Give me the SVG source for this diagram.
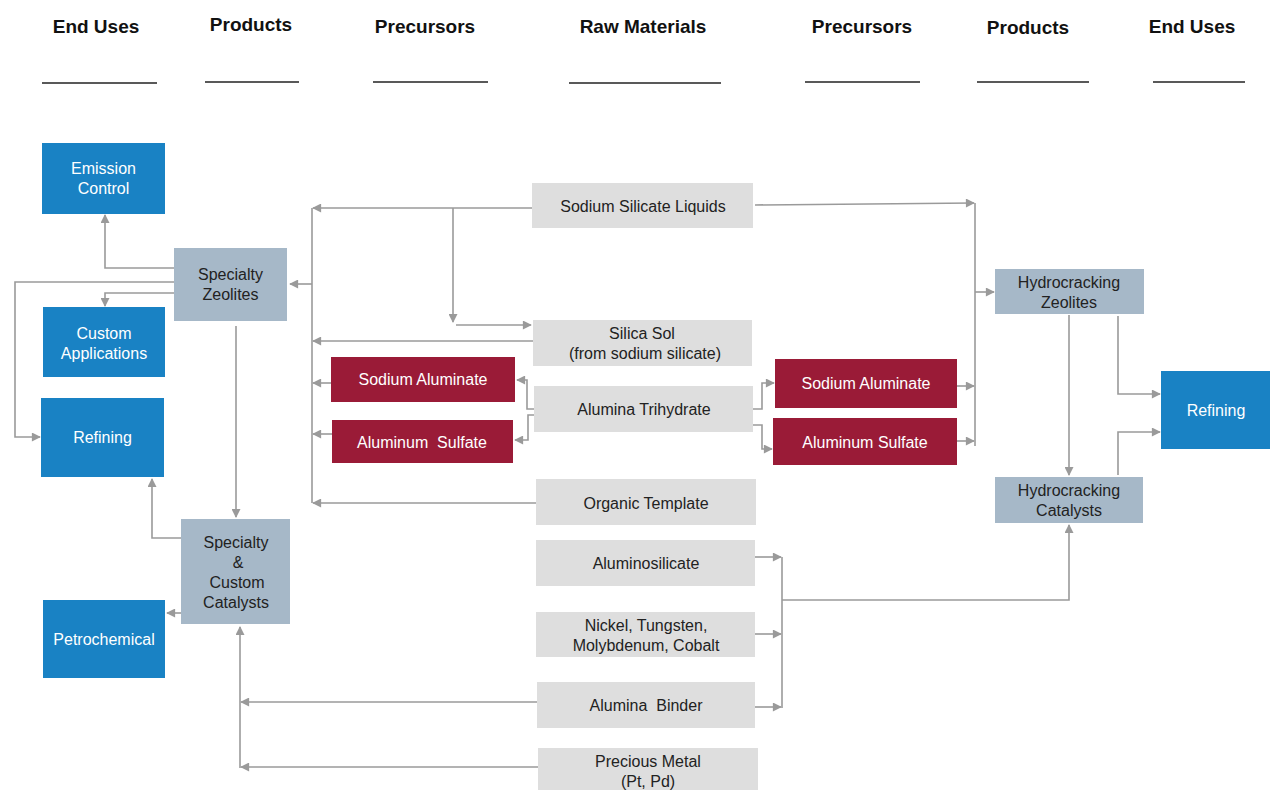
<svg xmlns="http://www.w3.org/2000/svg" width="1270" height="790" viewBox="0 0 1270 790">
<defs>
<marker id="ah" viewBox="0 0 10 10" refX="9" refY="5" markerWidth="10" markerHeight="9" markerUnits="userSpaceOnUse" orient="auto">
<path d="M0,0 L10,5 L0,10 Z" fill="#9a9a9a"/>
</marker>
<style>
.hdr{font-family:"Liberation Sans",Arial,sans-serif;font-size:19px;font-weight:bold;fill:#111;text-anchor:middle}
.ul{stroke:#222;stroke-width:1.5}
.blue{fill:#1982c4}
.slate{fill:#a6b8c8}
.lite{fill:#dedede}
.red{fill:#9a1b37}
.tw{font-family:"Liberation Sans",Arial,sans-serif;font-size:16px;fill:#fff;text-anchor:middle}
.td{font-family:"Liberation Sans",Arial,sans-serif;font-size:16px;fill:#222;text-anchor:middle}
.c{fill:none;stroke:#9a9a9a;stroke-width:1.6}
.a{marker-end:url(#ah)}
</style>
</defs>
<rect width="1270" height="790" fill="#fff"/>
<g id="headers">
<text class="hdr" x="96" y="33">End Uses</text>
<text class="hdr" x="251" y="31">Products</text>
<text class="hdr" x="425" y="33">Precursors</text>
<text class="hdr" x="643" y="33">Raw Materials</text>
<text class="hdr" x="862" y="33">Precursors</text>
<text class="hdr" x="1028" y="34">Products</text>
<text class="hdr" x="1192" y="33">End Uses</text>
<line class="ul" x1="42" y1="83" x2="157" y2="83"/>
<line class="ul" x1="205" y1="82" x2="299" y2="82"/>
<line class="ul" x1="373" y1="82" x2="488" y2="82"/>
<line class="ul" x1="569" y1="83" x2="721" y2="83"/>
<line class="ul" x1="805" y1="82" x2="920" y2="82"/>
<line class="ul" x1="977" y1="82" x2="1089" y2="82"/>
<line class="ul" x1="1153" y1="82" x2="1245" y2="82"/>
</g>
<g id="connectors">
<path class="c a" d="M174 268 H105 V215"/>
<path class="c a" d="M174 282 H15 V437 H40"/>
<path class="c a" d="M174 293 H105 V306"/>
<path class="c a" d="M236 326 V517"/>
<path class="c a" d="M181 538 H152 V479"/>
<path class="c a" d="M181 613 H167"/>
<path class="c" d="M312 208 V503"/>
<path class="c a" d="M312 284 H290"/>
<path class="c a" d="M532 208 H313"/>
<path class="c a" d="M453 208 V322"/>
<path class="c a" d="M456 325 H531"/>
<path class="c a" d="M533 341 H313"/>
<path class="c a" d="M331 383 H313"/>
<path class="c a" d="M332 434 H313"/>
<path class="c a" d="M536 503 H313"/>
<path class="c a" d="M540 409 H527 V380 H517"/>
<path class="c a" d="M540 415 H528 V440 H515"/>
<path class="c a" d="M753 409 H762 V383 H774"/>
<path class="c a" d="M753 425 H762 V449 H772"/>
<path class="c a" d="M755 205 L974 203"/>
<path class="c" d="M975 203 V446"/>
<path class="c a" d="M957 386 H974"/>
<path class="c a" d="M957 441 H974"/>
<path class="c a" d="M975 292 H994"/>
<path class="c a" d="M1069 315 V475"/>
<path class="c a" d="M1118 316 V394 H1160"/>
<path class="c a" d="M1118 475 V432 H1160"/>
<path class="c a" d="M755 557 H781"/>
<path class="c a" d="M755 634 H781"/>
<path class="c a" d="M755 707 H781"/>
<path class="c" d="M782 557 V708"/>
<path class="c a" d="M782 600 H1069 V525"/>
<path class="c a" d="M537 702 H241"/>
<path class="c a" d="M538 767 H241"/>
<path class="c a" d="M240 768 V627"/>
</g>
<g id="emission-control"><rect class="blue" x="42" y="143" width="123" height="71"/><text class="tw" x="103.5" y="174">Emission</text><text class="tw" x="103.5" y="194">Control</text></g>
<g id="specialty-zeolites"><rect class="slate" x="174" y="248" width="113" height="73"/><text class="td" x="230.5" y="280">Specialty</text><text class="td" x="230.5" y="300">Zeolites</text></g>
<g id="custom-applications"><rect class="blue" x="43" y="307" width="122" height="70"/><text class="tw" x="104" y="339">Custom</text><text class="tw" x="104" y="359">Applications</text></g>
<g id="refining-left"><rect class="blue" x="41" y="398" width="123" height="79"/><text class="tw" x="102.5" y="443">Refining</text></g>
<g id="specialty-custom-catalysts"><rect class="slate" x="181" y="519" width="109" height="105"/><text class="td" x="236" y="548">Specialty</text><text class="td" x="238" y="568">&amp;</text><text class="td" x="237" y="588">Custom</text><text class="td" x="236" y="608">Catalysts</text></g>
<g id="petrochemical"><rect class="blue" x="43" y="600" width="122" height="78"/><text class="tw" x="104" y="645">Petrochemical</text></g>
<g id="sodium-silicate-liquids"><rect class="lite" x="532" y="183" width="221" height="45"/><text class="td" x="643" y="212">Sodium Silicate Liquids</text></g>
<g id="silica-sol"><rect class="lite" x="533" y="320" width="219" height="46"/><text class="td" x="642" y="339">Silica Sol</text><text class="td" x="645" y="359">(from sodium silicate)</text></g>
<g id="sodium-aluminate-left"><rect class="red" x="331" y="357" width="184" height="45"/><text class="tw" x="423" y="385">Sodium Aluminate</text></g>
<g id="alumina-trihydrate"><rect class="lite" x="534" y="386" width="219" height="46"/><text class="td" x="644" y="415">Alumina Trihydrate</text></g>
<g id="aluminum-sulfate-left"><rect class="red" x="332" y="420" width="181" height="43"/><text class="tw" x="422" y="448" xml:space="preserve">Aluminum  Sulfate</text></g>
<g id="organic-template"><rect class="lite" x="536" y="479" width="220" height="46"/><text class="td" x="646" y="509">Organic Template</text></g>
<g id="aluminosilicate"><rect class="lite" x="536" y="540" width="219" height="46"/><text class="td" x="646" y="569">Aluminosilicate</text></g>
<g id="nickel-tungsten"><rect class="lite" x="536" y="612" width="219" height="45"/><text class="td" x="646" y="631">Nickel, Tungsten,</text><text class="td" x="646" y="651">Molybdenum, Cobalt</text></g>
<g id="alumina-binder"><rect class="lite" x="537" y="682" width="218" height="46"/><text class="td" x="646" y="711" xml:space="preserve">Alumina  Binder</text></g>
<g id="precious-metal"><rect class="lite" x="538" y="748" width="220" height="42"/><text class="td" x="648" y="767">Precious Metal</text><text class="td" x="648" y="787">(Pt, Pd)</text></g>
<g id="sodium-aluminate-right"><rect class="red" x="775" y="359" width="182" height="49"/><text class="tw" x="866" y="389">Sodium Aluminate</text></g>
<g id="aluminum-sulfate-right"><rect class="red" x="773" y="418" width="184" height="47"/><text class="tw" x="865" y="448">Aluminum Sulfate</text></g>
<g id="hydrocracking-zeolites"><rect class="slate" x="995" y="269" width="149" height="45"/><text class="td" x="1069" y="288">Hydrocracking</text><text class="td" x="1069" y="308">Zeolites</text></g>
<g id="hydrocracking-catalysts"><rect class="slate" x="995" y="477" width="148" height="46"/><text class="td" x="1069" y="496">Hydrocracking</text><text class="td" x="1069" y="516">Catalysts</text></g>
<g id="refining-right"><rect class="blue" x="1161" y="371" width="109" height="78"/><text class="tw" x="1216" y="416">Refining</text></g>
</svg>
